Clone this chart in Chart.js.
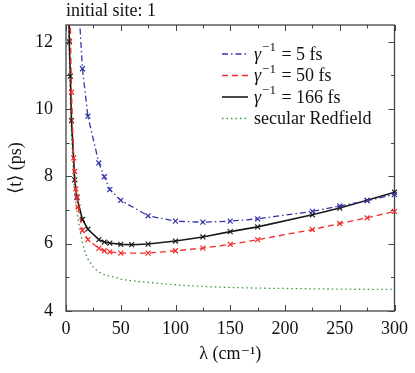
<!DOCTYPE html>
<html>
<head>
<meta charset="utf-8">
<script src="https://cdn.jsdelivr.net/npm/chart.js@4.4.0/dist/chart.umd.min.js"></script>
<style>
  html, body { margin: 0; padding: 0; background: #fff; }
  #wrap { width: 415px; height: 373px; }
</style>
</head>
<body>
<div id="wrap"><canvas id="chart" width="415" height="373"></canvas></div>
<script>
'use strict';

// gamma^-1 = 5 fs
const lam5 = [10, 15, 20, 30, 35, 40, 50, 75, 100, 125, 150, 175, 225, 250, 275, 300];
const t5   = [14.0, 11.2, 9.79, 8.4, 7.99, 7.61, 7.29, 6.83, 6.67, 6.64, 6.67, 6.74, 6.96, 7.12, 7.28, 7.46];

// gamma^-1 = 50 fs
const lam50 = [3, 5, 7, 8, 9, 10, 11, 15, 20, 30, 35, 40, 50, 75, 100, 125, 150, 175, 225, 250, 275, 300];
const t50   = [14.5, 10.5, 8.55, 8.15, 7.63, 7.4, 7.09, 6.4, 6.12, 5.86, 5.79, 5.76, 5.72, 5.72, 5.79, 5.87, 5.98, 6.12, 6.42, 6.6, 6.77, 6.96];

// gamma^-1 = 166 fs
const lam166 = [2, 3, 4, 5, 8, 10, 15, 20, 30, 35, 40, 50, 60, 75, 100, 125, 150, 175, 225, 250, 275, 300];
const t166   = [15.5, 12.0, 10.98, 9.66, 7.9, 7.37, 6.72, 6.43, 6.12, 6.05, 6.02, 5.98, 5.97, 5.99, 6.08, 6.2, 6.36, 6.5, 6.86, 7.06, 7.29, 7.53];

// secular Redfield
const lamSec = [2, 3, 4, 5, 6, 7, 8, 10, 12, 15, 17, 20, 23, 25, 30, 35, 40, 45, 50, 60, 75, 100, 125, 150, 175, 200, 250, 300];
const tSec   = [13.8, 11.6, 10.2, 9.3, 8.6, 8.0, 7.55, 6.95, 6.55, 6.05, 5.8, 5.55, 5.4, 5.3, 5.17, 5.08, 5.04, 5.0, 4.95, 4.9, 4.85, 4.78, 4.73, 4.7, 4.68, 4.67, 4.65, 4.64];

const xMajor = [0, 50, 100, 150, 200, 250, 300];
const xMinor = [25, 75, 125, 175, 225, 275];
const yMajor = [4, 6, 8, 10, 12];
const yMinor = [5, 7, 9, 11];

const FONT = "'Liberation Serif', 'DejaVu Serif', serif";
const INK = '#111';
const pts = (xs, ys) => xs.map((x, i) => ({ x, y: ys[i] }));

// box round the plot with inward ticks on all four sides
const frameTicks = {
  id: 'frameTicks',
  beforeDatasetsDraw(chart) {
    const { ctx, chartArea: a, scales: { x, y } } = chart;
    ctx.save();
    ctx.strokeStyle = '#444';
    ctx.lineWidth = 1.3;
    ctx.strokeRect(a.left, a.top, a.right - a.left, a.bottom - a.top);
    ctx.lineWidth = 1;
    ctx.beginPath();
    const tx = (v, len) => {
      const p = Math.round(x.getPixelForValue(v)) + 0.5;
      ctx.moveTo(p, a.bottom); ctx.lineTo(p, a.bottom - len);
      ctx.moveTo(p, a.top); ctx.lineTo(p, a.top + len);
    };
    const ty = (v, len) => {
      const p = Math.round(y.getPixelForValue(v)) + 0.5;
      ctx.moveTo(a.left, p); ctx.lineTo(a.left + len, p);
      ctx.moveTo(a.right, p); ctx.lineTo(a.right - len, p);
    };
    xMajor.forEach(v => tx(v, 6));
    xMinor.forEach(v => tx(v, 3.5));
    yMajor.forEach(v => ty(v, 6));
    yMinor.forEach(v => ty(v, 3.5));
    ctx.stroke();
    ctx.restore();
  }
};

// legend in the upper right of the plot, gamma in italics
const insideLegend = {
  id: 'insideLegend',
  afterDraw(chart) {
    const { ctx } = chart;
    const x0 = 222, x1 = 248, tx = 254, top = 54, step = 21.5;
    ctx.save();
    chart.data.datasets.forEach((ds, i) => {
      const yy = top + i * step;
      ctx.strokeStyle = ds.borderColor;
      ctx.lineWidth = ds.borderWidth;
      ctx.setLineDash(ds.borderDash || []);
      ctx.beginPath(); ctx.moveTo(x0, yy); ctx.lineTo(x1, yy); ctx.stroke();
      ctx.setLineDash([]);
      ctx.fillStyle = INK;
      ctx.textBaseline = 'middle';
      ctx.textAlign = 'left';
      let cx = tx;
      if (ds.label.startsWith('γ⁻¹')) {
        ctx.font = 'italic 18px ' + FONT;
        ctx.fillText('γ', cx, yy + 1);
        cx += ctx.measureText('γ').width + 1;
        ctx.font = '13px ' + FONT;
        ctx.fillText('−1', cx, yy - 6);
        cx += ctx.measureText('−1').width + 1;
        ctx.font = '18px ' + FONT;
        ctx.fillText(ds.label.slice(3), cx, yy + 1);
      } else {
        ctx.font = '18px ' + FONT;
        ctx.fillText(ds.label, cx, yy + 1);
      }
    });
    ctx.restore();
  }
};

const clip = { left: 0, top: 0, right: 6, bottom: 0 };

new Chart(document.getElementById('chart'), {
  type: 'scatter',
  data: {
    datasets: [
      {
        label: 'γ⁻¹ = 5 fs', data: pts(lam5, t5), showLine: true,
        borderColor: '#3434a8', backgroundColor: '#3434a8', borderWidth: 1.3,
        borderDash: [6, 3, 1.5, 3], pointStyle: 'crossRot', pointRadius: 3.5,
        pointBorderWidth: 1.2, clip
      },
      {
        label: 'γ⁻¹ = 50 fs', data: pts(lam50, t50), showLine: true,
        borderColor: '#f52a2a', backgroundColor: '#f52a2a', borderWidth: 1.3,
        borderDash: [6, 4], pointStyle: 'crossRot', pointRadius: 3.5,
        pointBorderWidth: 1.2, clip
      },
      {
        label: 'γ⁻¹ = 166 fs', data: pts(lam166, t166), showLine: true,
        borderColor: '#1a1a1a', backgroundColor: '#1a1a1a', borderWidth: 1.6,
        pointStyle: 'crossRot', pointRadius: 3.5, pointBorderWidth: 1.1, clip
      },
      {
        label: 'secular Redfield', data: pts(lamSec, tSec), showLine: true,
        borderColor: '#3a9a3a', borderWidth: 1.3, borderDash: [1.5, 3],
        pointRadius: 0, cubicInterpolationMode: 'monotone', clip
      }
    ]
  },
  options: {
    responsive: false, animation: false,
    layout: { padding: { left: 0, right: 15, top: 0, bottom: 0 } },
    plugins: {
      legend: { display: false },
      tooltip: { enabled: false },
      title: {
        display: true, text: 'initial site: 1', align: 'start', fullSize: false,
        color: INK, font: { family: FONT, size: 18, weight: 'normal' },
        padding: { top: 0, bottom: 3.4 }
      }
    },
    scales: {
      x: {
        type: 'linear', min: 0, max: 300,
        afterFit: s => { s.height = 62; },
        grid: { display: false, drawTicks: false },
        border: { display: false },
        ticks: { stepSize: 50, padding: 7, color: INK, maxRotation: 0, autoSkip: false,
                 font: { family: FONT, size: 18 } },
        title: { display: true, text: 'λ (cm⁻¹)', color: INK,
                 font: { family: FONT, size: 18 }, padding: { top: 0, bottom: 8 } }
      },
      y: {
        min: 4, max: 12.5,
        afterFit: s => { s.width = 66; },
        grid: { display: false, drawTicks: false },
        border: { display: false },
        ticks: { stepSize: 2, includeBounds: false, padding: 13, color: INK,
                 font: { family: FONT, size: 18 } },
        title: { display: true, text: '⟨t⟩ (ps)', color: INK,
                 font: { family: FONT, size: 18 }, padding: { top: 5, bottom: 0 } }
      }
    }
  },
  plugins: [frameTicks, insideLegend]
});
</script>
</body>
</html>
